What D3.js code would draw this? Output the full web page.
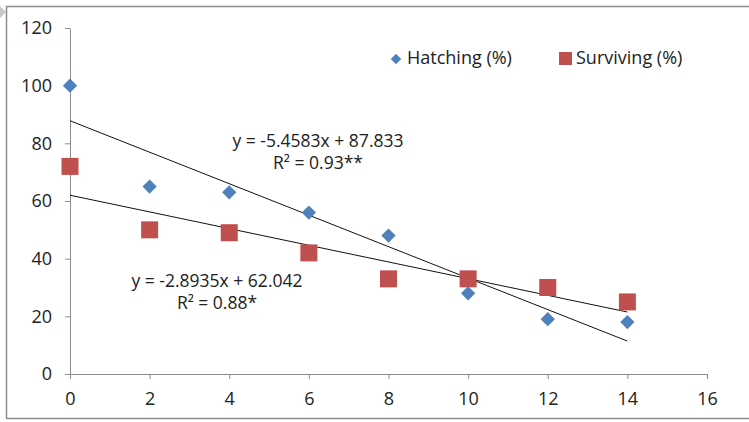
<!DOCTYPE html>
<html>
<head>
<meta charset="utf-8">
<script src="https://cdn.jsdelivr.net/npm/d3@7"></script>
<style>
  body { margin: 0; background: #fff; }
  svg text { font-family: "Open Sans", Lato, sans-serif; fill: #222; }
</style>
</head>
<body>
<div id="chart"></div>
<script>
// data
const days = [0, 2, 4, 6, 8, 10, 12, 14];
const hatching = [100, 65, 63, 56, 48, 28, 19, 18];
const surviving = [72, 50, 49, 42, 33, 33, 30, 25];
const xTicks = [0, 2, 4, 6, 8, 10, 12, 14, 16];
const yTicks = [0, 20, 40, 60, 80, 100, 120];
const hatchLabel = ['y = -5.4583x + 87.833', 'R\u00b2 = 0.93**'];
const survLabel = ['y = -2.8935x + 62.042', 'R\u00b2 = 0.88*'];

const width = 749, height = 422;
const margin = {top: 28, right: 42, bottom: 48, left: 70};
const innerWidth = width - margin.left - margin.right;
const innerHeight = height - margin.top - margin.bottom;

const svg = d3.select('#chart').append('svg')
    .attr('width', width)
    .attr('height', height);

// outer chart border
svg.append('rect')
    .attr('x', 6.5).attr('y', 6.5)
    .attr('width', 760).attr('height', 412)
    .attr('fill', 'none')
    .attr('stroke', '#8c8c8c')
    .attr('stroke-width', 1.5);
svg.append('path')
    .attr('d', 'M0,6 L6,12 L0,18 Z')
    .attr('fill', '#c8c8c8');

const g = svg.append('g')
    .attr('transform', `translate(${margin.left},${margin.top})`);

const x = d3.scaleLinear().domain([0, 16]).range([0, innerWidth]);
const y = d3.scaleLinear().domain([0, 120]).range([innerHeight, 0]);

// axes
const xAxis = g.append('g')
    .attr('transform', `translate(0,${innerHeight})`)
    .call(d3.axisBottom(x).tickValues(xTicks).tickSize(5).tickSizeOuter(0).tickPadding(13));
const yAxis = g.append('g')
    .call(d3.axisLeft(y).tickValues(yTicks).tickSize(5).tickSizeOuter(0).tickPadding(13));

[xAxis, yAxis].forEach(a => {
    a.attr('font-size', 18).attr('font-family', '"Open Sans", sans-serif');
    a.selectAll('path, line').attr('stroke', '#8c8c8c');
    a.selectAll('text').attr('fill', '#222');
});

// least squares fit
function fit(xs, ys) {
    const mx = d3.mean(xs), my = d3.mean(ys);
    const num = d3.sum(xs, (v, i) => (v - mx) * (ys[i] - my));
    const den = d3.sum(xs, v => (v - mx) * (v - mx));
    const slope = num / den;
    return {slope, intercept: my - slope * mx};
}

[hatching, surviving].forEach(ys => {
    const f = fit(days, ys);
    const x0 = d3.min(days), x1 = d3.max(days);
    g.append('line')
        .attr('x1', x(x0)).attr('y1', y(f.slope * x0 + f.intercept))
        .attr('x2', x(x1)).attr('y2', y(f.slope * x1 + f.intercept))
        .attr('stroke', '#111')
        .attr('stroke-width', 1);
});

const blue = '#4F81BD', red = '#C0504D';
const diamond = d3.symbol().type(d3.symbolDiamond2).size(130);

g.selectAll('.surv')
    .data(days)
    .join('rect')
    .attr('class', 'surv')
    .attr('x', (d) => x(d) - 8.5)
    .attr('y', (d, i) => y(surviving[i]) - 8.5)
    .attr('width', 17).attr('height', 17)
    .attr('fill', red);

g.selectAll('.hatch')
    .data(days)
    .join('path')
    .attr('class', 'hatch')
    .attr('transform', (d, i) => `translate(${x(d)},${y(hatching[i])})`)
    .attr('d', diamond)
    .attr('fill', blue);

// equation labels
function addLabel(lines, cx, cy) {
    lines.forEach((t, i) => {
        g.append('text')
            .attr('x', cx).attr('y', cy + i * 22)
            .attr('text-anchor', 'middle')
            .style('font-size', '17.5px')
            .text(t);
    });
}
addLabel(hatchLabel, 318 - margin.left, 147 - margin.top);
addLabel(survLabel, 217 - margin.left, 287 - margin.top);

// legend
const legend = svg.append('g');
legend.append('path')
    .attr('transform', 'translate(396,59)')
    .attr('d', d3.symbol().type(d3.symbolDiamond2).size(70))
    .attr('fill', blue);
legend.append('text')
    .attr('x', 407).attr('y', 64)
    .style('font-size', '18px')
    .text('Hatching (%)');
legend.append('rect')
    .attr('x', 559).attr('y', 52)
    .attr('width', 13).attr('height', 13)
    .attr('fill', red);
legend.append('text')
    .attr('x', 576).attr('y', 64)
    .style('font-size', '18px')
    .text('Surviving (%)');
</script>
</body>
</html>
